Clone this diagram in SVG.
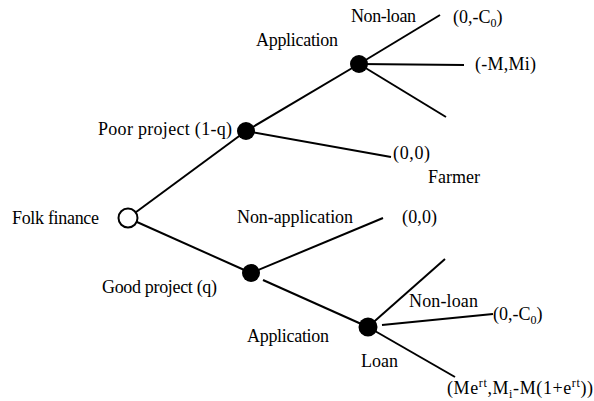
<svg xmlns="http://www.w3.org/2000/svg" width="594" height="401" viewBox="0 0 594 401">
<style>
.e{stroke:#000;stroke-width:2;fill:none;stroke-linecap:butt}
.n{fill:#000}
.r{fill:#fff;stroke:#000;stroke-width:2}
text{font-family:"Liberation Serif","Times New Roman","DejaVu Serif",serif;font-size:18px;fill:#000}
.s{font-size:12px}
</style>
<rect width="594" height="401" fill="#fff"/>
<g id="connectors">
<line class="e" x1="128" y1="218" x2="246" y2="131"/>
<line class="e" x1="128" y1="218" x2="251" y2="273"/>
<line class="e" x1="246" y1="131" x2="359" y2="64"/>
<line class="e" x1="246" y1="131" x2="391" y2="157"/>
<line class="e" x1="359" y1="64" x2="440" y2="15"/>
<line class="e" x1="359" y1="64" x2="464" y2="65"/>
<line class="e" x1="359" y1="64" x2="446" y2="117"/>
<line class="e" x1="251" y1="273" x2="383" y2="218"/>
<line class="e" x1="263" y1="280" x2="368" y2="327"/>
<line class="e" x1="368" y1="327" x2="445" y2="259"/>
<line class="e" x1="382" y1="325" x2="493" y2="314"/>
<line class="e" x1="368" y1="327" x2="455" y2="377"/>
</g>
<g id="folk"><circle class="r" cx="128" cy="218" r="9.5"/><text x="12" y="224" textLength="87">Folk finance</text></g>
<g id="poor"><circle class="n" cx="246" cy="131" r="9"/><text x="98" y="135" textLength="134">Poor project (1-q)</text></g>
<g id="good"><circle class="n" cx="251" cy="273" r="9"/><text x="102" y="293" textLength="115">Good project (q)</text></g>
<g id="app1"><circle class="n" cx="359" cy="64" r="9"/><text x="256" y="46" textLength="82">Application</text></g>
<g id="app2"><circle class="n" cx="368" cy="327" r="9.5"/><text x="247" y="342" textLength="82">Application</text></g>
<g id="labels">
<text x="351" y="22" textLength="65">Non-loan</text>
<text x="453" y="23">(0,-C<tspan class="s" dy="4">0</tspan><tspan dy="-4">)</tspan></text>
<text x="475" y="70" textLength="61">(-M,Mi)</text>
<text x="393" y="159" textLength="37">(0,0)</text>
<text x="428" y="183" textLength="52">Farmer</text>
<text x="237" y="223" textLength="116">Non-application</text>
<text x="402" y="223" textLength="35">(0,0)</text>
<text x="409" y="307" textLength="69">Non-loan</text>
<text x="493" y="320">(0,-C<tspan class="s" dy="4">0</tspan><tspan dy="-4">)</tspan></text>
<text x="361" y="367" textLength="37">Loan</text>
<text x="447" y="394" textLength="146">(Me<tspan class="s" dy="-7">rt</tspan><tspan dy="7">,M</tspan><tspan class="s" dy="4">i</tspan><tspan dy="-4">-M(1+e</tspan><tspan class="s" dy="-7">rt</tspan><tspan dy="7">))</tspan></text>
</g>
</svg>
